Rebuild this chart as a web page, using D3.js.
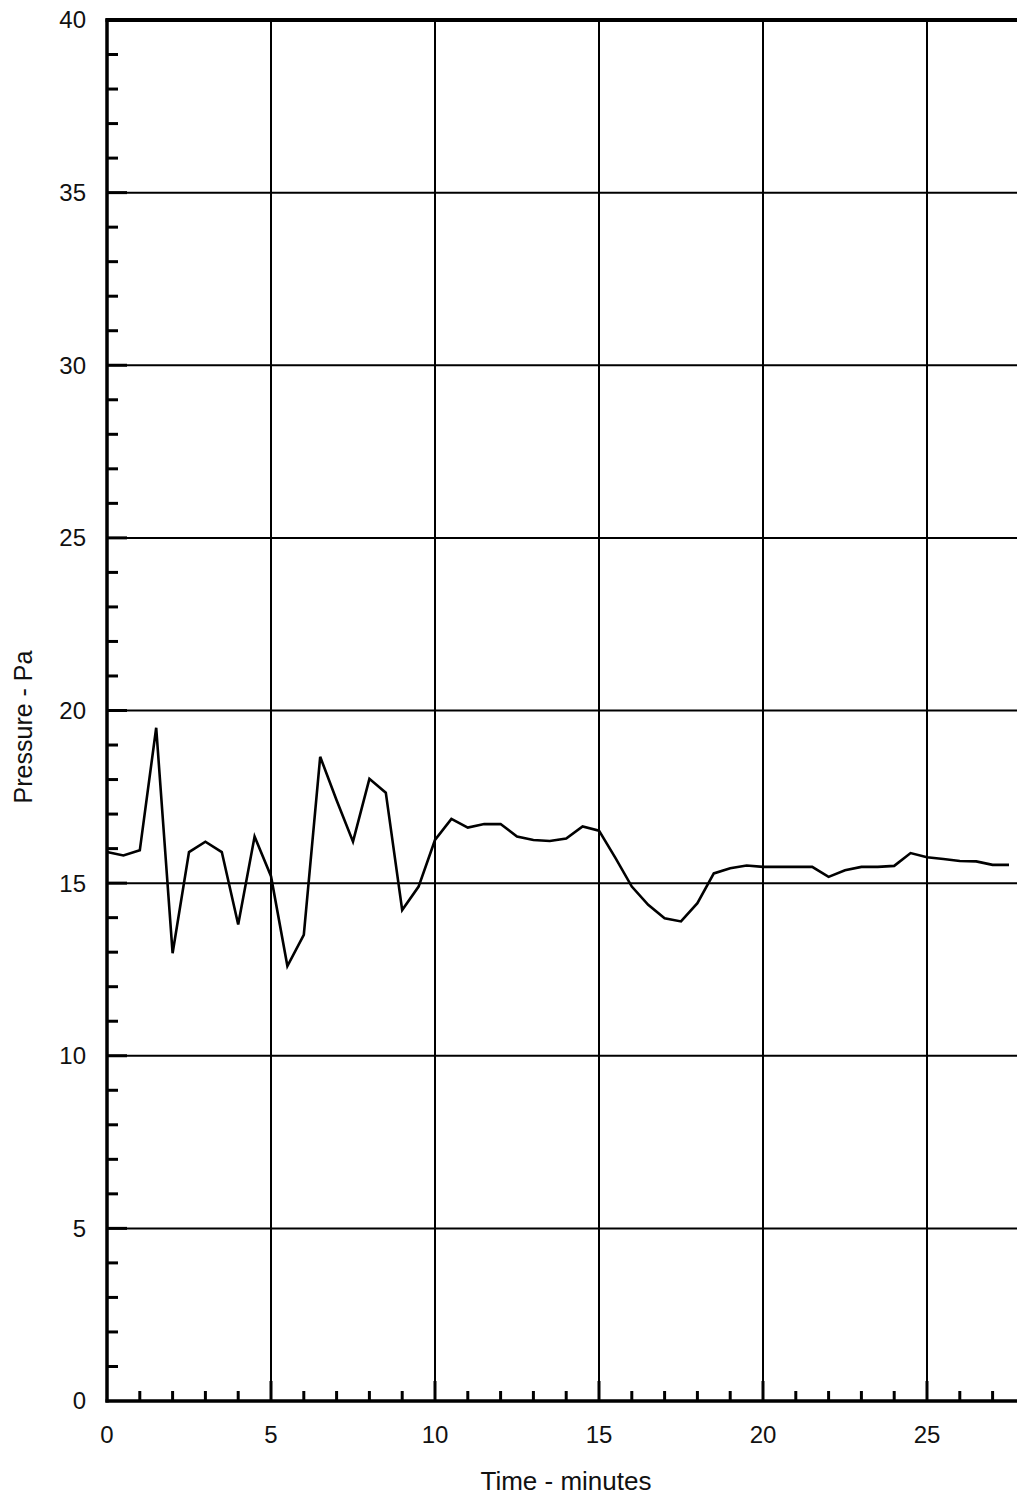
<!DOCTYPE html>
<html>
<head>
<meta charset="utf-8">
<script src="https://cdn.jsdelivr.net/npm/d3@7"></script>
<style>
  html, body { margin: 0; padding: 0; background: #fff; }
  svg { display: block; }
  text { font-family: "Liberation Sans", Arial, sans-serif; fill: #111; }
</style>
</head>
<body>
<svg id="chart" width="1017" height="1501"></svg>
<script>
// ---- Data ----
const times = [0, 0.5, 1, 1.5, 2, 2.5, 3, 3.5, 4, 4.5, 5, 5.5, 6, 6.5, 7, 7.5, 8, 8.5, 9, 9.5,
  10, 10.5, 11, 11.5, 12, 12.5, 13, 13.5, 14, 14.5, 15, 15.5, 16, 16.5, 17, 17.5, 18, 18.5, 19, 19.5,
  20, 20.5, 21, 21.5, 22, 22.5, 23, 23.5, 24, 24.5, 25, 25.5, 26, 26.5, 27, 27.5];
const pressure = [15.9, 15.8, 15.95, 19.5, 12.97, 15.9, 16.2, 15.9, 13.8, 16.35, 15.2, 12.6, 13.5, 18.66, 17.4, 16.2, 18.02, 17.62, 14.22, 14.9,
  16.25, 16.86, 16.61, 16.71, 16.71, 16.35, 16.25, 16.22, 16.29, 16.64, 16.52, 15.73, 14.9, 14.37, 13.98, 13.89, 14.42, 15.28, 15.43, 15.51,
  15.47, 15.47, 15.47, 15.47, 15.18, 15.37, 15.47, 15.47, 15.5, 15.87, 15.75, 15.7, 15.64, 15.63, 15.53, 15.53];
const xTickLabels = [0, 5, 10, 15, 20, 25];
const yTickLabels = [0, 5, 10, 15, 20, 25, 30, 35, 40];
const xLabel = "Time - minutes";
const yLabel = "Pressure - Pa";

// ---- Layout ----
const W = 1017, H = 1501;
const mLeft = 107, mBottom = 1401, mTop = 20;
const pxPerMin = 32.8;
const xMax = 28;

const svg = d3.select("#chart");
const x = d3.scaleLinear().domain([0, xMax]).range([mLeft, mLeft + xMax * pxPerMin]);
const y = d3.scaleLinear().domain([0, 40]).range([mBottom, mTop]);

// Grid lines
svg.append("g").selectAll("line").data(xTickLabels.filter(d => d > 0)).join("line")
  .attr("x1", d => x(d)).attr("x2", d => x(d)).attr("y1", mTop).attr("y2", mBottom)
  .attr("stroke", "#000").attr("stroke-width", 2);
svg.append("g").selectAll("line").data(yTickLabels.filter(d => d > 0 && d < 40)).join("line")
  .attr("x1", mLeft).attr("x2", W).attr("y1", d => y(d)).attr("y2", d => y(d))
  .attr("stroke", "#000").attr("stroke-width", 2);

// Minor ticks
const yMinor = d3.range(1, 40);
svg.append("g").selectAll("line").data(yMinor).join("line")
  .attr("x1", mLeft).attr("x2", d => mLeft + (d % 5 === 0 ? 20 : 11))
  .attr("y1", d => y(d)).attr("y2", d => y(d))
  .attr("stroke", "#000").attr("stroke-width", 3);
const xMinor = d3.range(1, xMax);
svg.append("g").selectAll("line").data(xMinor).join("line")
  .attr("x1", d => x(d)).attr("x2", d => x(d))
  .attr("y1", mBottom).attr("y2", d => mBottom - (d % 5 === 0 ? 20 : 10))
  .attr("stroke", "#000").attr("stroke-width", 3);

// Axes / frame
svg.append("line").attr("x1", mLeft).attr("x2", mLeft).attr("y1", mTop - 1.5).attr("y2", mBottom + 1.5)
  .attr("stroke", "#000").attr("stroke-width", 3.5);
svg.append("line").attr("x1", mLeft - 1.5).attr("x2", W).attr("y1", mBottom).attr("y2", mBottom)
  .attr("stroke", "#000").attr("stroke-width", 3.5);
svg.append("line").attr("x1", mLeft - 1.5).attr("x2", W).attr("y1", mTop).attr("y2", mTop)
  .attr("stroke", "#000").attr("stroke-width", 4);

// Tick labels
svg.append("g").selectAll("text").data(yTickLabels).join("text")
  .attr("x", 86).attr("y", d => y(d)).attr("dy", "0.35em")
  .attr("text-anchor", "end").attr("font-size", 24).text(d => d);
svg.append("g").selectAll("text").data(xTickLabels).join("text")
  .attr("x", d => x(d)).attr("y", 1443)
  .attr("text-anchor", "middle").attr("font-size", 24).text(d => d);

// Axis titles
svg.append("text").attr("x", 566).attr("y", 1490).attr("text-anchor", "middle")
  .attr("font-size", 26).text(xLabel);
svg.append("text").attr("transform", "translate(32,727) rotate(-90)")
  .attr("text-anchor", "middle").attr("font-size", 25).text(yLabel);

// Data line
const line = d3.line().x((d, i) => x(times[i])).y(d => y(d));
svg.append("path").datum(pressure).attr("d", line)
  .attr("fill", "none").attr("stroke", "#000").attr("stroke-width", 2.6)
  .attr("stroke-linejoin", "miter");
</script>
</body>
</html>
